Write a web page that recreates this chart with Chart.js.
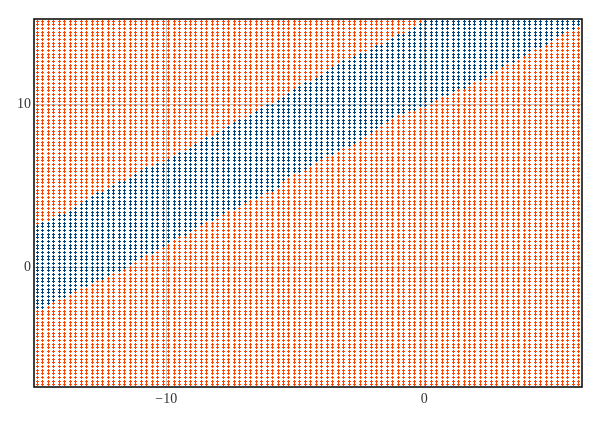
<!DOCTYPE html>
<html>
<head>
<meta charset="utf-8">
<script src="https://cdn.jsdelivr.net/npm/chart.js@4.4.0/dist/chart.umd.min.js"></script>
<style>
html,body{margin:0;padding:0;background:#fff;}
#wrap{width:606px;height:423px;}
</style>
</head>
<body>
<div id="wrap"><canvas id="graphId" width="606" height="423"></canvas></div>
<script>
// sample grid (columns / rows of points)
var xFirst = -15, xLast = 6, xCount = 100;
var yFirst = -7.25, yLast = 15.15, yCount = 100;

// edges of the blue band at each whole x
var bandX    = [-15, -14, -13, -12, -11, -10, -9, -8, -7, -6, -5, -4, -3, -2, -1, 0, 1, 2, 3, 4, 5, 6];
var bandLow  = [-2.7, -1.9, -1.1, -0.43, 0.45, 1.4, 2.2, 3.1, 3.9, 4.6, 5.7, 6.65, 7.35, 8.2, 9.3, 9.8, 10.7, 11.35, 12.25, 13.1, 13.9, 14.9];
var bandHigh = [2.64, 3.3, 4.25, 5.05, 5.95, 6.63, 7.45, 8.3, 9.2, 10.05, 11.0, 11.85, 12.8, 13.5, 14.25, 15.1, 16, 17, 18, 19, 20, 21];

var xTicks = [-10, 0];
var yTicks = [0, 10];

var redColor = '#ff4500';
var blueColor = '#00457f';

function edgeAt(arr, x) {
  for (var k = 0; k < bandX.length - 1; k++) {
    if (x <= bandX[k + 1]) {
      var t = (x - bandX[k]) / (bandX[k + 1] - bandX[k]);
      return arr[k] + t * (arr[k + 1] - arr[k]);
    }
  }
  return arr[arr.length - 1];
}

var redPts = [];
var bluePts = [];
for (var i = 0; i < xCount; i++) {
  var x = xFirst + i * (xLast - xFirst) / (xCount - 1);
  var lo = edgeAt(bandLow, x);
  var hi = edgeAt(bandHigh, x);
  for (var j = 0; j < yCount; j++) {
    var y = yFirst + j * (yLast - yFirst) / (yCount - 1);
    if (y >= lo && y <= hi) bluePts.push({x: x, y: y});
    else redPts.push({x: x, y: y});
  }
}

// small crisp "+" marker
function crossMark(col) {
  var cv = document.createElement('canvas');
  cv.width = 3; cv.height = 3;
  var g = cv.getContext('2d');
  g.fillStyle = col;
  g.fillRect(0, 1, 3, 1);
  g.fillRect(1, 0, 1, 3);
  return cv;
}

var framePlugin = {
  id: 'frame',
  beforeDatasetsDraw: function(chart) {
    chart.ctx.imageSmoothingEnabled = false;
  },
  afterDatasetsDraw: function(chart) {
    var a = chart.chartArea;
    var c = chart.ctx;
    c.save();
    c.strokeStyle = '#000';
    c.lineWidth = 1.5;
    c.strokeRect(a.left, a.top, a.right - a.left, a.bottom - a.top);
    c.restore();
  }
};

function fmt(v) {
  return v < 0 ? '\u2212' + Math.abs(v) : '' + v;
}

var tickFont = {family: '"Liberation Serif", "DejaVu Serif", serif', size: 14};

var ctx = document.getElementById('graphId').getContext('2d');
var myChart = new Chart(ctx, {
  type: 'scatter',
  data: {
    datasets: [
      {data: redPts, pointStyle: crossMark(redColor), pointRadius: 1.5,
       borderColor: redColor, backgroundColor: redColor, pointHoverRadius: 0},
      {data: bluePts, pointStyle: crossMark(blueColor), pointRadius: 1.5,
       borderColor: blueColor, backgroundColor: blueColor, pointHoverRadius: 0}
    ]
  },
  options: {
    responsive: false,
    devicePixelRatio: 1,
    animation: false,
    events: [],
    layout: {padding: {left: 0, right: 24, top: 19, bottom: 0}},
    plugins: {legend: {display: false}, tooltip: {enabled: false}},
    scales: {
      x: {
        type: 'linear', min: -15.13, max: 6.12,
        afterBuildTicks: function(s) { s.ticks = xTicks.map(function(v) { return {value: v}; }); },
        afterFit: function(s) { s.height = 36; },
        grid: {color: '#c4c4c4', lineWidth: 1, drawTicks: false},
        border: {display: false},
        ticks: {padding: 4, color: '#333', font: tickFont, maxRotation: 0, callback: fmt}
      },
      y: {
        type: 'linear', min: -7.39, max: 15.28,
        afterBuildTicks: function(s) { s.ticks = yTicks.map(function(v) { return {value: v}; }); },
        afterFit: function(s) { s.width = 34; },
        grid: {color: '#c4c4c4', lineWidth: 1, drawTicks: false},
        border: {display: false},
        ticks: {padding: 3, color: '#333', font: tickFont, callback: fmt}
      }
    }
  },
  plugins: [framePlugin]
});
</script>
</body>
</html>
